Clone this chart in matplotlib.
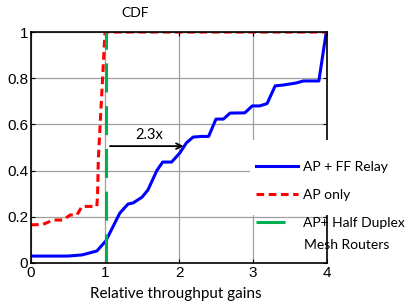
import matplotlib
matplotlib.use('Agg')
import matplotlib.pyplot as plt
from matplotlib.patches import Rectangle

# AP + FF Relay (blue)
relay_x = [0, 0.5, 0.69, 0.89, 1.01, 1.2, 1.31, 1.38, 1.5, 1.58, 1.70, 1.78, 1.9, 2.01,
           2.1, 2.19, 2.30, 2.40, 2.5, 2.6, 2.69, 2.89, 2.99, 3.09, 3.19, 3.3, 3.4,
           3.58, 3.68, 3.89, 3.99]
relay_y = [0.03, 0.03, 0.035, 0.052, 0.095, 0.216, 0.255, 0.26, 0.285, 0.316, 0.40, 0.437,
           0.437, 0.476, 0.52, 0.545, 0.548, 0.548, 0.623, 0.623, 0.649, 0.65, 0.68, 0.68,
           0.69, 0.767, 0.77, 0.779, 0.788, 0.788, 1.0]

# AP only (red)
aponly_x = [0, 0.16, 0.3, 0.43, 0.53, 0.62, 0.69, 0.89, 0.9, 0.91, 1.0, 4.0]
aponly_y = [0.165, 0.167, 0.186, 0.186, 0.208, 0.208, 0.245, 0.245, 0.3, 0.45, 1.0, 1.0]

# AP + Half Duplex Mesh Routers (green)
mesh_x = [1.02, 1.02]
mesh_y = [0, 1]

fig = plt.figure(figsize=(4.12, 3.06), dpi=100)
ax = fig.add_axes([31/412, 1-263/306, 296/412, 231/306])

ax.plot(relay_x, relay_y, color='#0000ff', lw=2.2, label='AP + FF Relay', zorder=2)
ax.plot(aponly_x, aponly_y, color='#ff0000', lw=2.2, ls=(0, (2.5, 1.5)), label='AP only', zorder=2)
ax.plot(mesh_x, mesh_y, color='#00b050', lw=2.2, ls=(0, (9.5, 4.5)),
        label='AP+ Half Duplex', zorder=2)

# 2.3x arrow
ax.annotate('', xy=(2.1, 0.506), xytext=(1.03, 0.506),
            arrowprops=dict(arrowstyle='->', color='black', lw=1.3))
ax.text(1.6, 0.525, '2.3x', ha='center', va='bottom', fontsize=10.5, family='Lato')

ax.set_xlim(0, 4)
ax.set_ylim(0, 1)
ax.set_xticks([0, 1, 2, 3, 4])
ax.set_yticks([0, 0.2, 0.4, 0.6, 0.8, 1])
ax.set_yticklabels(['0', '0.2', '0.4', '0.6', '0.8', '1'])
ax.grid(True, color='#a0a0a0', lw=0.9)
ax.set_axisbelow(True)
ax.tick_params(direction='in', top=True, right=True, length=3, labelsize=11, pad=2)
for lab in ax.get_xticklabels() + ax.get_yticklabels():
    lab.set_family('Liberation Sans')
for s in ax.spines.values():
    s.set_linewidth(1.2)

# white area behind the legend
ax.add_patch(Rectangle((250/412, 1-215/306), 162/412, 75/306, transform=fig.transFigure,
                       facecolor='white', edgecolor='none', clip_on=False, zorder=3))

ax.legend(loc='upper left', bbox_to_anchor=(256/412, 1-161/306), bbox_transform=fig.transFigure,
          frameon=False, borderpad=0, borderaxespad=0, handlelength=3.0, handletextpad=0.35,
          labelspacing=1.15, prop={'family': 'Lato', 'size': 10})
fig.text(304/412, 1-245/306, 'Mesh Routers', ha='left', va='center', fontsize=10, family='Lato')

fig.text(135/412, 1-13/306, 'CDF', ha='center', va='center', fontsize=10, family='Lato')
fig.text(176/412, 1-294/306, 'Relative throughput gains', ha='center', va='center',
         fontsize=11, family='Lato')

fig.savefig('out.png', dpi=100)
